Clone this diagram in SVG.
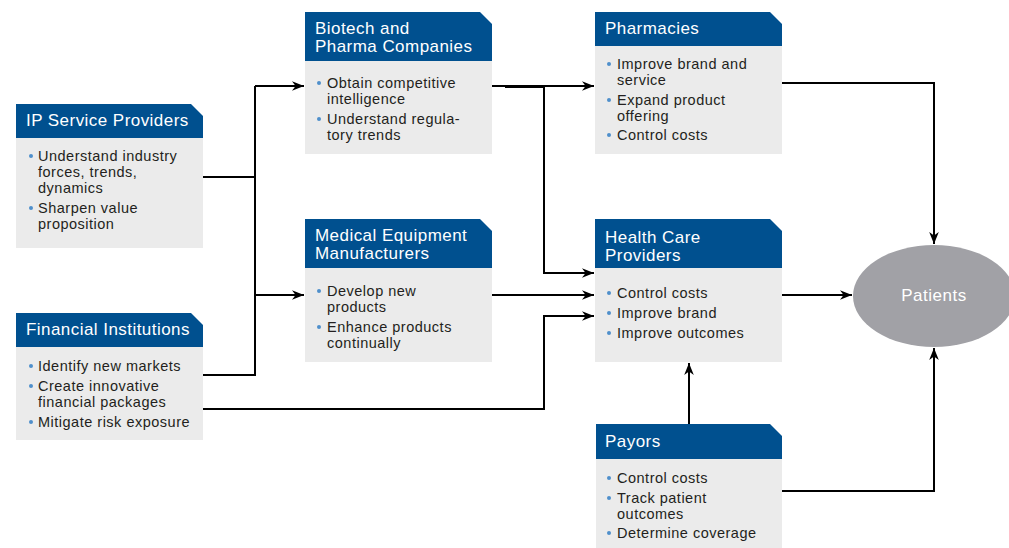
<svg xmlns="http://www.w3.org/2000/svg" width="1009" height="548" viewBox="0 0 1009 548">
<defs>
<style>
.hdr{fill:#00508f}
.body{fill:#ebebeb}
.ht{font-family:"Liberation Sans",Arial,sans-serif;font-size:17px;letter-spacing:0.45px;fill:#ffffff}
.bt{font-family:"Liberation Sans",Arial,sans-serif;font-size:14.5px;letter-spacing:0.5px;fill:#231f20}
.dot{fill:#4f8fcb}
.conn{fill:none;stroke:#000;stroke-width:2}
.pt{font-family:"Liberation Sans",Arial,sans-serif;font-size:17px;letter-spacing:0.5px;fill:#ffffff}
</style>
<marker id="arr" viewBox="0 0 10 10" refX="10" refY="5" markerWidth="12" markerHeight="12" markerUnits="userSpaceOnUse" orient="auto">
<path d="M0,1 L10,5 L0,9 L3,5 Z" fill="#000"/>
</marker>
</defs>
<rect width="1009" height="548" fill="#ffffff"/>

<g id="connectors">
<path class="conn" d="M203,177 H255"/>
<path class="conn" d="M203,375 H255 V86"/>
<path class="conn" d="M255,86 H304" marker-end="url(#arr)"/>
<path class="conn" d="M255,295 H304" marker-end="url(#arr)"/>
<path class="conn" d="M492,86 H594" marker-end="url(#arr)"/>
<path class="conn" d="M505,87 H544 V273 H594" marker-end="url(#arr)"/>
<path class="conn" d="M492,295 H594" marker-end="url(#arr)"/>
<path class="conn" d="M203,409 H544 V316 H594" marker-end="url(#arr)"/>
<path class="conn" d="M689,424 V363" marker-end="url(#arr)"/>
<path class="conn" d="M782,295 H852" marker-end="url(#arr)"/>
<path class="conn" d="M782,83 H934 V244" marker-end="url(#arr)"/>
<path class="conn" d="M782,491 H934 V348" marker-end="url(#arr)"/>
</g>

<g id="ip-service-providers">
<rect class="body" x="16" y="137" width="187" height="111"/>
<path class="hdr" d="M16,104 H191 L203,116 V138 H16 Z"/>
<text class="ht" x="26" y="126">IP Service Providers</text>
<circle class="dot" cx="31" cy="156" r="2"/>
<text class="bt" x="38" y="161">Understand industry</text>
<text class="bt" x="38" y="177">forces, trends,</text>
<text class="bt" x="38" y="193">dynamics</text>
<circle class="dot" cx="31" cy="208" r="2"/>
<text class="bt" x="38" y="213">Sharpen value</text>
<text class="bt" x="38" y="229">proposition</text>
</g>

<g id="financial-institutions">
<rect class="body" x="16" y="346" width="187" height="94"/>
<path class="hdr" d="M16,313 H191 L203,325 V347 H16 Z"/>
<text class="ht" x="26" y="335">Financial Institutions</text>
<circle class="dot" cx="31" cy="366" r="2"/>
<text class="bt" x="38" y="371">Identify new markets</text>
<circle class="dot" cx="31" cy="386" r="2"/>
<text class="bt" x="38" y="391">Create innovative</text>
<text class="bt" x="38" y="407">financial packages</text>
<circle class="dot" cx="31" cy="422" r="2"/>
<text class="bt" x="38" y="427">Mitigate risk exposure</text>
</g>

<g id="biotech-pharma">
<rect class="body" x="305" y="60" width="187" height="94"/>
<path class="hdr" d="M305,12 H480 L492,24 V61 H305 Z"/>
<text class="ht" x="315" y="34">Biotech and</text>
<text class="ht" x="315" y="52">Pharma Companies</text>
<circle class="dot" cx="319" cy="83" r="2"/>
<text class="bt" x="327" y="88">Obtain competitive</text>
<text class="bt" x="327" y="104">intelligence</text>
<circle class="dot" cx="319" cy="119" r="2"/>
<text class="bt" x="327" y="124">Understand regula-</text>
<text class="bt" x="327" y="140">tory trends</text>
</g>

<g id="pharmacies">
<rect class="body" x="595" y="45" width="187" height="109"/>
<path class="hdr" d="M595,12 H770 L782,24 V46 H595 Z"/>
<text class="ht" x="605" y="34">Pharmacies</text>
<circle class="dot" cx="609" cy="64" r="2"/>
<text class="bt" x="617" y="69">Improve brand and</text>
<text class="bt" x="617" y="85">service</text>
<circle class="dot" cx="609" cy="100" r="2"/>
<text class="bt" x="617" y="105">Expand product</text>
<text class="bt" x="617" y="121">offering</text>
<circle class="dot" cx="609" cy="135" r="2"/>
<text class="bt" x="617" y="140">Control costs</text>
</g>

<g id="medical-equipment">
<rect class="body" x="305" y="267" width="187" height="95"/>
<path class="hdr" d="M305,219 H480 L492,231 V268 H305 Z"/>
<text class="ht" x="315" y="241">Medical Equipment</text>
<text class="ht" x="315" y="259">Manufacturers</text>
<circle class="dot" cx="319" cy="291" r="2"/>
<text class="bt" x="327" y="296">Develop new</text>
<text class="bt" x="327" y="312">products</text>
<circle class="dot" cx="319" cy="327" r="2"/>
<text class="bt" x="327" y="332">Enhance products</text>
<text class="bt" x="327" y="348">continually</text>
</g>

<g id="health-care-providers">
<rect class="body" x="595" y="267" width="187" height="95"/>
<path class="hdr" d="M595,219 H770 L782,231 V268 H595 Z"/>
<text class="ht" x="605" y="243">Health Care</text>
<text class="ht" x="605" y="261">Providers</text>
<circle class="dot" cx="609" cy="293" r="2"/>
<text class="bt" x="617" y="298">Control costs</text>
<circle class="dot" cx="609" cy="313" r="2"/>
<text class="bt" x="617" y="318">Improve brand</text>
<circle class="dot" cx="609" cy="333" r="2"/>
<text class="bt" x="617" y="338">Improve outcomes</text>
</g>

<g id="payors">
<rect class="body" x="596" y="458" width="186" height="90"/>
<path class="hdr" d="M596,424 H770 L782,436 V459 H596 Z"/>
<text class="ht" x="605" y="447">Payors</text>
<circle class="dot" cx="609" cy="478" r="2"/>
<text class="bt" x="617" y="483">Control costs</text>
<circle class="dot" cx="609" cy="498" r="2"/>
<text class="bt" x="617" y="503">Track patient</text>
<text class="bt" x="617" y="519">outcomes</text>
<circle class="dot" cx="609" cy="533" r="2"/>
<text class="bt" x="617" y="538">Determine coverage</text>
</g>

<g id="patients">
<ellipse cx="934" cy="296" rx="81" ry="51" fill="#a1a1a6"/>
<text class="pt" x="934" y="301" text-anchor="middle">Patients</text>
</g>
</svg>
